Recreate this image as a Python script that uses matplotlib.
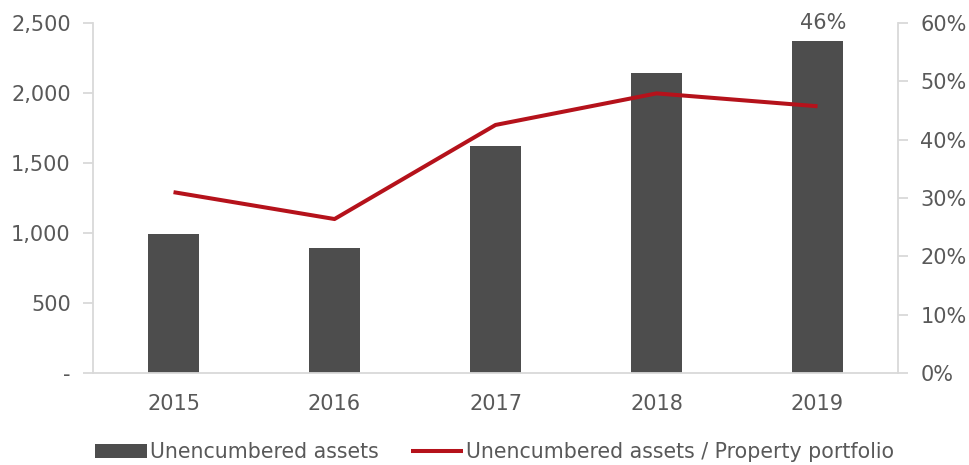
import numpy as np
import matplotlib
matplotlib.use("Agg")
import matplotlib.pyplot as plt
from matplotlib.ticker import FuncFormatter

years = ["2015", "2016", "2017", "2018", "2019"]
unencumbered = [991, 891, 1619, 2141, 2372]
share_pct = [31.0, 26.4, 42.5, 47.9, 45.7]

left_ticks = [0, 500, 1000, 1500, 2000, 2500]
right_ticks = [0, 10, 20, 30, 40, 50, 60]

BAR = "#4d4d4d"
RED = "#b5121b"
TXT = "#595959"
SPINE = "#d9d9d9"

plt.rcParams["font.family"] = ["DejaVu Sans"]

fig = plt.figure(figsize=(9.7, 4.65), dpi=100)
ax = fig.add_axes([0.0959, 0.1972, 0.8299, 0.754])
ax2 = ax.twinx()

x = np.arange(len(years))
ax.bar(x, unencumbered, width=0.316, color=BAR, label="Unencumbered assets", zorder=2)
ax2.plot(x, share_pct, color=RED, lw=2.9, solid_capstyle="butt",
         label="Unencumbered assets / Property portfolio", zorder=3)

ax.set_xlim(-0.5, len(years) - 0.5)
ax.set_ylim(0, 2500)
ax2.set_ylim(0, 60)
ax.set_yticks(left_ticks)
ax2.set_yticks(right_ticks)
ax.yaxis.set_major_formatter(FuncFormatter(lambda v, p: "-" if v == 0 else f"{v:,.0f}"))
ax2.yaxis.set_major_formatter(FuncFormatter(lambda v, p: f"{v:.0f}%"))
ax.set_xticks(x)
ax.set_xticklabels(years)

for a in (ax, ax2):
    for s in a.spines.values():
        s.set_visible(False)
ax.spines["left"].set_visible(True)
ax.spines["bottom"].set_visible(True)
ax2.spines["right"].set_visible(True)
for s in (ax.spines["left"], ax.spines["bottom"], ax2.spines["right"]):
    s.set_color(SPINE)
    s.set_linewidth(1.3)

ax.tick_params(axis="y", length=7, width=1.3, color=SPINE, labelcolor=TXT,
               labelsize=15, pad=9)
ax2.tick_params(axis="y", length=7, width=1.3, color=SPINE, labelcolor=TXT,
                labelsize=15, pad=9)
ax.tick_params(axis="x", length=0, labelcolor=TXT, labelsize=15, pad=15)

# data label for the latest ratio
ax2.annotate(f"{share_pct[-1]:.0f}%", xy=(x[-1], 1.0), xycoords=("data", "axes fraction"),
             xytext=(4, 0), textcoords="offset points",
             ha="center", va="center", color=TXT, fontsize=15)

h1, l1 = ax.get_legend_handles_labels()
h2, l2 = ax2.get_legend_handles_labels()
fig.legend(h1 + h2, l1 + l2, loc="center", bbox_to_anchor=(0.51, 0.028), ncol=2,
           frameon=False, fontsize=14.8, labelcolor=TXT, handlelength=2.5,
           handleheight=0.65, handletextpad=0.15, columnspacing=1.6)

fig.savefig("out.png", dpi=100)
